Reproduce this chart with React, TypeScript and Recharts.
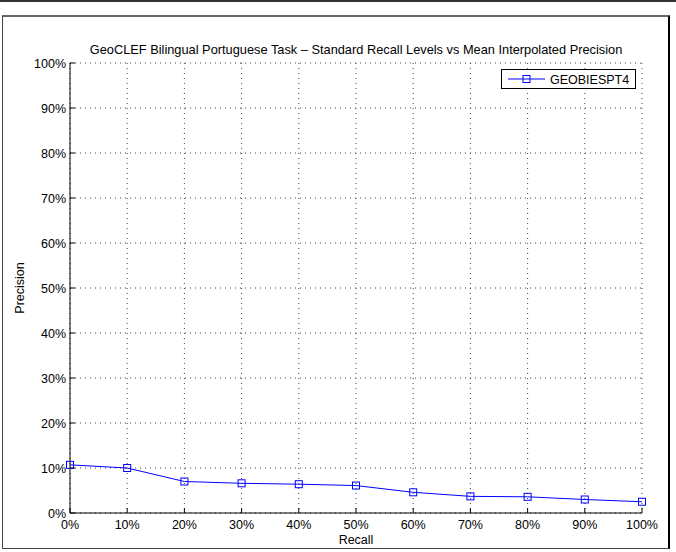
import React from 'react'
import { LineChart, Line, XAxis, YAxis, CartesianGrid, Legend } from 'recharts'

const chartTitle = 'GeoCLEF Bilingual Portuguese Task \u2013 Standard Recall Levels vs Mean Interpolated Precision'
const runName = 'GEOBIESPT4'
const recallLevels = [0, 10, 20, 30, 40, 50, 60, 70, 80, 90, 100]
const precisionValues = [10.7, 10.0, 7.0, 6.6, 6.4, 6.1, 4.6, 3.7, 3.6, 3.0, 2.5]
const precisionTicks = [0, 10, 20, 30, 40, 50, 60, 70, 80, 90, 100]

const data = recallLevels.map((r, i) => ({ recall: r, precision: precisionValues[i] }))

const BLUE = '#0000ff'
const FONT = 12.5

const XTick = (props: any) => {
  const { x, y, payload } = props
  return (
    <g>
      <line x1={x} x2={x} y1={y} y2={y - 5} stroke="#000" />
      <text x={x} y={y + 16} textAnchor="middle" fontSize={FONT} fill="#000">
        {payload.value}%
      </text>
    </g>
  )
}

const YTick = (props: any) => {
  const { x, y, payload } = props
  return (
    <g>
      <line x1={x} x2={x + 5} y1={y} y2={y} stroke="#000" />
      <text x={x - 4} y={y + 4.5} textAnchor="end" fontSize={FONT} fill="#000">
        {payload.value}%
      </text>
    </g>
  )
}

const SquareDot = (props: any) => {
  const { cx, cy } = props
  if (cx == null || cy == null) return null
  return <rect x={cx - 3.5} y={cy - 3.5} width={7} height={7} fill="none" stroke={BLUE} strokeWidth={1} />
}

const LegendBox = () => (
  <div style={{ border: '1px solid #000', background: '#fff', width: 133, height: 18, boxSizing: 'content-box' }}>
    <svg width={133} height={18}>
      <line x1={6} x2={43} y1={9} y2={9} stroke={BLUE} />
      <rect x={21} y={5.5} width={7} height={7} fill="none" stroke={BLUE} />
      <text x={48} y={13.5} fontSize={FONT} fill="#000">{runName}</text>
    </svg>
  </div>
)

export default function App() {
  return (
    <div
      style={{
        position: 'absolute', left: 0, top: 0, width: 676, height: 552,
        background: '#fff', fontFamily: '"Liberation Sans", Arial, Helvetica, sans-serif'
      }}
    >
      <div style={{ position: 'absolute', left: 0, top: 0, width: 676, height: 2, background: '#333' }} />
      <div
        style={{
          position: 'absolute', left: 2, top: 15, width: 665, height: 531,
          borderTop: '2px solid #666', borderLeft: '1px solid #444',
          borderRight: '2px solid #000', borderBottom: '1px solid #444'
        }}
      />
      <div style={{ position: 'absolute', left: 0, top: 0 }}>
        <LineChart width={676} height={552} data={data} margin={{ top: 63, right: 34, bottom: 0, left: 0 }}>
          <CartesianGrid stroke="#444" strokeDasharray="1 4" />
          <XAxis
            dataKey="recall" type="number" domain={[0, 100]} ticks={recallLevels}
            height={39} tickSize={0} tickMargin={0} tickLine={false}
            axisLine={{ stroke: '#000' }} tick={<XTick />} interval={0}
          />
          <XAxis
            xAxisId="top" orientation="top" mirror type="number" domain={[0, 100]}
            ticks={recallLevels} height={0} tickSize={5} tick={false}
            tickLine={{ stroke: '#000' }} axisLine={{ stroke: '#000' }} interval={0}
          />
          <YAxis
            type="number" domain={[0, 100]} ticks={precisionTicks} width={70}
            tickSize={0} tickMargin={0} tickLine={false}
            axisLine={{ stroke: '#000' }} tick={<YTick />} interval={0}
          />
          <YAxis
            yAxisId="right" orientation="right" mirror type="number" domain={[0, 100]}
            ticks={precisionTicks} width={0} tickSize={5} tick={false}
            tickLine={{ stroke: '#000' }} axisLine={{ stroke: '#000' }} interval={0}
          />
          <Legend
            layout="vertical" align="center" verticalAlign="middle"
            wrapperStyle={{ top: 69, left: 501, width: 135, height: 20 }}
            content={<LegendBox />}
          />
          <Line
            dataKey="precision" name={runName} stroke={BLUE} strokeWidth={1}
            dot={<SquareDot />} activeDot={false} isAnimationActive={false}
          />
          <text x={356} y={54} textAnchor="middle" fontSize={12.8} fill="#000">{chartTitle}</text>
          <text x={356} y={544} textAnchor="middle" fontSize={FONT} fill="#000">Recall</text>
          <text x={24} y={288} textAnchor="middle" fontSize={FONT} fill="#000" transform="rotate(-90 24 288)">
            Precision
          </text>
        </LineChart>
      </div>
    </div>
  )
}
